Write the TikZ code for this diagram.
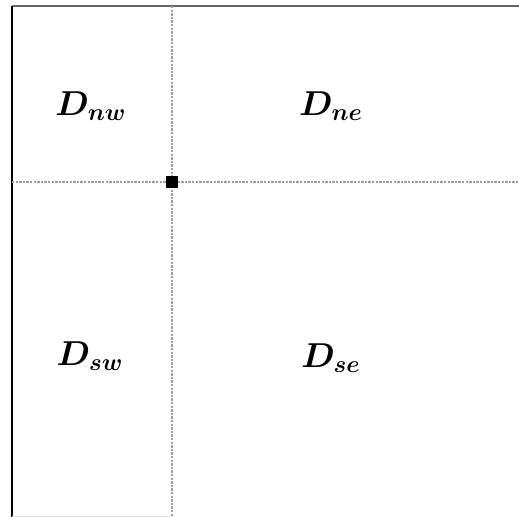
\documentclass[tikz,border=0pt]{standalone}
\DeclareMathSizes{16}{16}{12}{9}
\tikzset{
  split/.style={draw=gray!75,line width=1.3pt,dash pattern=on 1.2pt off 0.6pt},
  region/.style={font=\fontsize{16}{19}\selectfont\boldmath}
}
\begin{document}
\begin{tikzpicture}[x=0.5pt,y=-0.5pt]
\useasboundingbox (0,0) rectangle (519,517);
\draw[gray!80!black,line width=1pt] (12,6) -- (519,6);
\draw[black,line width=1pt] (12,6) -- (12,517);
\draw[gray!25,line width=0.5pt] (12,516.5) -- (172,516.5);
\coordinate (c) at (172,182);
\draw[split] (172,6) -- (c) -- (172,517);
\draw[split] (12,182) -- (c) -- (519,182);
\fill (166,176) rectangle (178,188);
\node[region] (nw) at (91,106) {$D_{nw}$};
\node[region] (ne) at (331,106) {$D_{ne}$};
\node[region] (sw) at (90,356) {$D_{sw}$};
\node[region] (se) at (331,358) {$D_{se}$};
\end{tikzpicture}
\end{document}
